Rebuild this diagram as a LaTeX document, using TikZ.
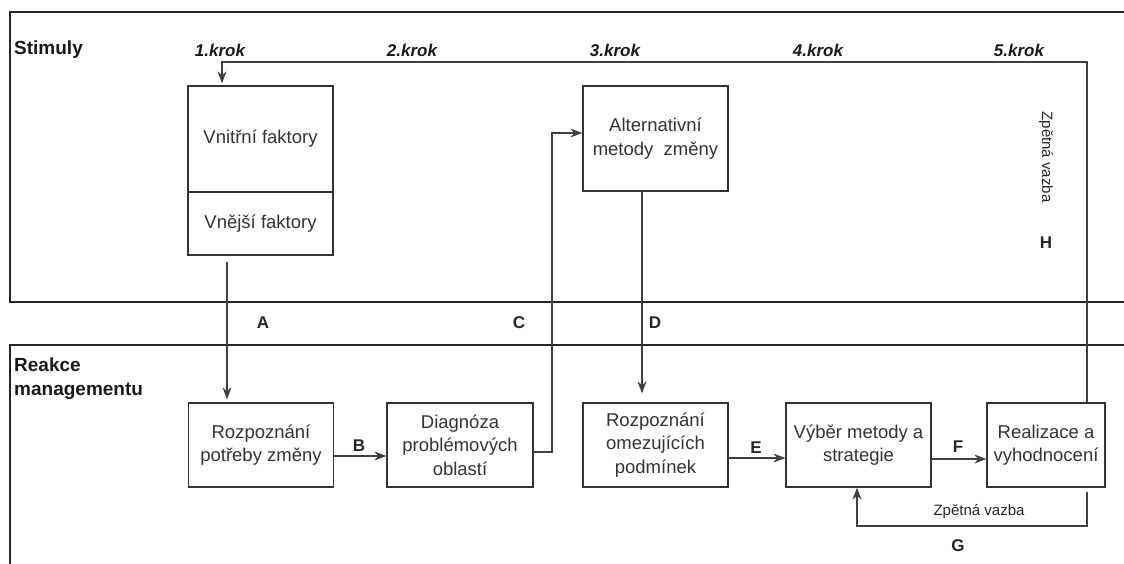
\documentclass[tikz,border=0pt]{standalone}
\usepackage{fontspec}
\setmainfont{Liberation Sans}
\usetikzlibrary{arrows.meta,calc}
\begin{document}
\begin{tikzpicture}[x=1pt,y=-1pt,
  frame/.style={line width=2.4pt,black!85},
  stepbox/.style={draw,line width=1.3pt,black!80,rectangle,inner sep=1pt,align=center,
    font=\fontsize{18.5}{23.5}\selectfont,text=black!80},
  conn/.style={line width=1.1pt,black!75},
  arr/.style={conn,-{Stealth[length=12pt,width=9pt]}},
  letter/.style={font=\bfseries\fontsize{17}{18}\selectfont,text=black!85},
  krok/.style={font=\bfseries\itshape\fontsize{17}{18}\selectfont,text=black!90},
  lane/.style={font=\bfseries\fontsize{19}{24}\selectfont,align=left,anchor=west,text=black!90,inner sep=1pt},
  fb/.style={font=\fontsize{15}{16}\selectfont,text=black!85}]
\useasboundingbox (0,0) rectangle (1124,564);

% lane frames
\draw[frame] (1124,12) -- (10,12) -- (10,302) -- (1124,302);
\draw[frame] (1124,345) -- (10,345) -- (10,564);

% lane and step headings
\node[lane] (stim) at (13,50) {Stimuly};
\node[lane] (reak) at (13,379) {Reakce\\managementu};
\node[krok] (k1) at (220,50) {1.krok};
\node[krok] (k2) at (412,50) {2.krok};
\node[krok] (k3) at (615,50) {3.krok};
\node[krok] (k4) at (818,50) {4.krok};
\node[krok] (k5) at (1019,50) {5.krok};

% boxes
\node[stepbox,minimum width=145pt,minimum height=106pt] (vf) at (260.5,139) {Vnitřní faktory};
\node[stepbox,minimum width=145pt,minimum height=63pt] (vn) at (260.5,223.5) {Vnější faktory};
\node[stepbox,minimum width=145pt,minimum height=105pt] (alt) at (655.5,138.5) {Alternativní\\metody\ \ změny};
\node[stepbox,minimum width=145pt,minimum height=84pt] (rp) at (261,445) {Rozpoznání\\potřeby změny};
\node[stepbox,minimum width=146pt,minimum height=84pt] (dg) at (460,445) {Diagnóza\\problémových\\oblastí};
\node[stepbox,minimum width=145pt,minimum height=84pt] (ro) at (655.5,445) {Rozpoznání\\omezujících\\podmínek};
\node[stepbox,minimum width=145pt,minimum height=84pt] (vb) at (858.5,445) {Výběr metody a\\strategie};
\node[stepbox,minimum width=118pt,minimum height=84pt] (re) at (1046,445) {Realizace a\\vyhodnocení};

% helper points
\coordinate (hx) at (1087,62);
\coordinate (h1) at (222,62);
\coordinate (a1) at (227,262);
\coordinate (cc) at (552,133);
\coordinate (d1) at (642,191);
\coordinate (g1) at (1087,492);
\coordinate (g2) at (857,526);

% connectors
\draw[arr,shorten >=2pt] (re.north -| hx) -- (hx) -- (h1) -- (h1 |- vf.north);
\draw[arr,shorten >=3pt] (a1) -- (a1 |- rp.north);
\draw[arr] ([yshift=-11pt]rp.east) -- ([yshift=-11pt]rp.east -| dg.west);
\draw[arr] ([yshift=-7pt]dg.east) -| (cc) -- (cc -| alt.west);
\draw[arr,shorten >=9pt] (d1) -- (d1 |- ro.north);
\draw[arr] ([yshift=-13pt]ro.east) -- ([yshift=-13pt]ro.east -| vb.west);
\draw[arr] ([yshift=-14pt]vb.east) -- ([yshift=-14pt]vb.east -| re.west);
\draw[arr] (g1) |- (g2) -- (g2 |- vb.south);

% connector labels
\node[letter] (la) at (263,323) {A};
\node[letter] (lb) at (359,446) {B};
\node[letter] (lc) at (519,323) {C};
\node[letter] (ld) at (655,323) {D};
\node[letter] (le) at (756,448) {E};
\node[letter] (lf) at (958,447) {F};
\node[letter] (lg) at (958,546) {G};
\node[letter] (lh) at (1046,243) {H};
\node[fb] (fbg) at (979,512) {Zpětná vazba};
\node[fb,rotate=-90] (fbh) at (1046,157) {Zpětná vazba};
\end{tikzpicture}
\end{document}
